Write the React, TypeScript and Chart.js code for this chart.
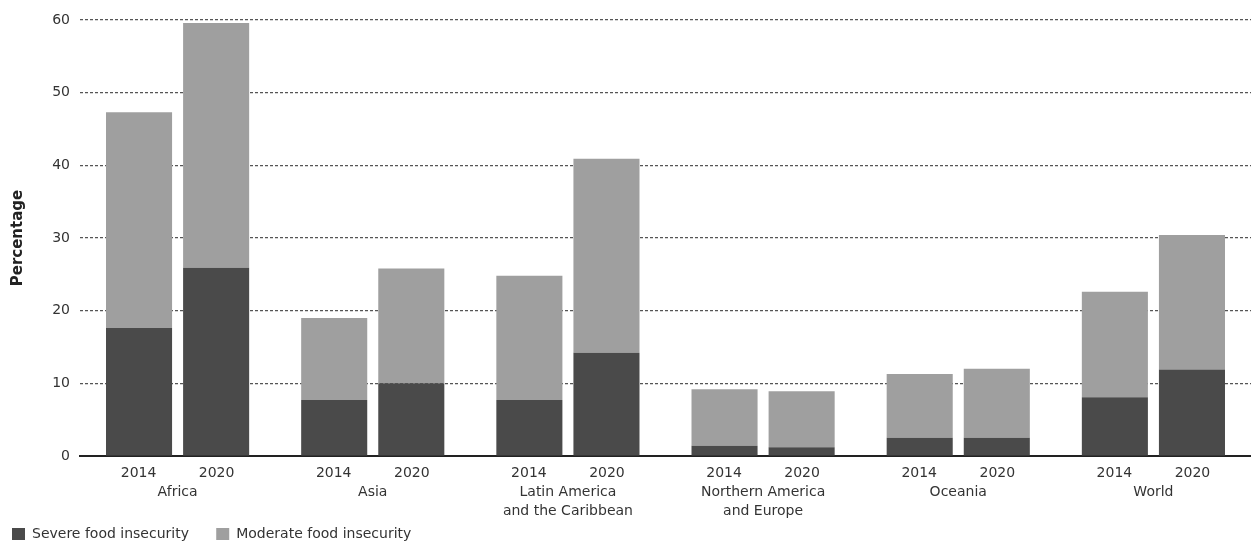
import React, { useEffect, useRef } from "react";
import { Chart, registerables } from "chart.js";

Chart.register(...registerables);

const regions: string[][] = [
  ["Africa"],
  ["Asia"],
  ["Latin America", "and the Caribbean"],
  ["Northern America", "and Europe"],
  ["Oceania"],
  ["World"],
];
const years = ["2014", "2020"];
const seriesNames = ["Severe food insecurity", "Moderate food insecurity"];
const severe2014 = [17.6, 7.7, 7.7, 1.4, 2.5, 8.1];
const moderate2014 = [29.7, 11.3, 17.1, 7.8, 8.8, 14.5];
const severe2020 = [25.9, 10.0, 14.2, 1.2, 2.5, 11.9];
const moderate2020 = [33.7, 15.8, 26.7, 7.7, 9.5, 18.5];
const yTicks = [0, 10, 20, 30, 40, 50, 60];

const SEVERE = "#4a4a4a";
const MODERATE = "#9f9f9f";
const FONT = "DejaVu Sans";

export default function App() {
  const ref = useRef<HTMLCanvasElement>(null);
  useEffect(() => {
    document.body.style.margin = "0";
    if (!ref.current) return;
    const yearLabels: string[] = [];
    regions.forEach(() => {
      yearLabels.push("", years[0], "", years[1], "");
    });
    const chart = new Chart(ref.current, {
      type: "bar",
      data: {
        labels: regions,
        datasets: [
          { label: seriesNames[0], data: severe2014, backgroundColor: SEVERE, stack: "a", xAxisID: "x" },
          { label: seriesNames[1], data: moderate2014, backgroundColor: MODERATE, stack: "a", xAxisID: "x" },
          { label: seriesNames[0], data: severe2020, backgroundColor: SEVERE, stack: "b", xAxisID: "x" },
          { label: seriesNames[1], data: moderate2020, backgroundColor: MODERATE, stack: "b", xAxisID: "x" },
        ],
      },
      options: {
        responsive: false,
        animation: false,
        layout: { padding: { top: 20, right: 0, left: 7, bottom: -6 } },
        datasets: { bar: { categoryPercentage: 0.79, barPercentage: 0.857 } },
        plugins: {
          tooltip: { enabled: false },
          legend: {
            position: "bottom",
            align: "start",
            labels: {
              boxWidth: 13,
              boxHeight: 12,
              padding: 5,
              color: "#333",
              font: { family: FONT, size: 14 },
              generateLabels: (c: any) =>
                seriesNames.map((name, i) => ({
                  text: i === 0 ? name + "     " : name,
                  fillStyle: i === 0 ? SEVERE : MODERATE,
                  strokeStyle: i === 0 ? SEVERE : MODERATE,
                  lineWidth: 0,
                  hidden: false,
                  datasetIndex: i,
                  fontColor: "#333",
                })),
            },
          },
        },
        scales: {
          yr: {
            type: "category",
            labels: yearLabels,
            position: "bottom",
            weight: 0,
            offset: true,
            grid: { display: false, drawTicks: false },
            border: { display: true, color: "#222", width: 2 },
            ticks: { autoSkip: false, maxRotation: 0, padding: 9, color: "#333", font: { family: FONT, size: 14 } },
            afterFit: (s: any) => { s.height = 27; },
          },
          x: {
            type: "category",
            position: "bottom",
            weight: 1,
            stacked: true,
            grid: { display: false, drawTicks: false },
            border: { display: false },
            ticks: { autoSkip: false, maxRotation: 0, padding: 0, color: "#333", font: { family: FONT, size: 14, lineHeight: 1.36 } },
            afterFit: (s: any) => { s.height = 39; },
          },
          y: {
            stacked: true,
            min: 0,
            max: 60,
            afterBuildTicks: (s: any) => { s.ticks = yTicks.map((v) => ({ value: v })); },
            grid: {
              color: "#555",
              lineWidth: 1.2,
              drawTicks: false,
            },
            border: { display: false, dash: [3, 2] },
            ticks: { padding: 10, color: "#333", font: { family: FONT, size: 14 } },
            title: { display: true, text: "Percentage", color: "#222", font: { family: FONT, size: 15, weight: "bold" }, padding: 2 },
            afterFit: (s: any) => { s.width = 73; },
          },
        },
      } as any,
    });
    return () => chart.destroy();
  }, []);
  return <canvas ref={ref} width={1251} height={545} />;
}
